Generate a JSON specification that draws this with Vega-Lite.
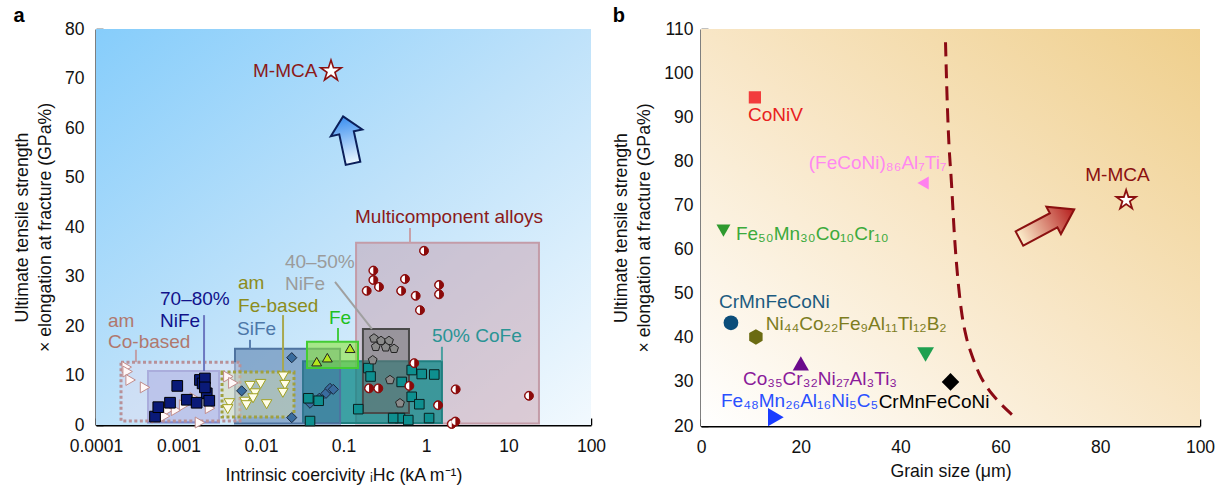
{
  "$schema": "https://vega.github.io/schema/vega-lite/v6.json",
  "background": "white",
  "padding": {"left": 13, "top": 6, "right": 0, "bottom": 0},
  "spacing": 6,
  "config": {
    "view": {"stroke": null},
    "font": "Liberation Sans",
    "axis": {"domainColor": "#000", "domainWidth": 2, "tickColor": "#000", "tickWidth": 1.5, "labelFont": "Liberation Sans", "labelFontSize": 17.5, "labelColor": "#111", "titleFont": "Liberation Sans", "titleFontSize": 17.7, "titleFontWeight": "normal", "titleColor": "#111", "grid": false, "labelOverlap": false, "labelFlush": false, "titleLineHeight": 23},
    "text": {"font": "Liberation Sans", "fontSize": 19, "baseline": "middle", "align": "left"},
    "title": {"font": "Liberation Sans", "fontSize": 20, "fontWeight": "bold", "anchor": "start", "color": "#000", "offset": -6}
  },
  "datasets": {
    "a_bg": [{"x1": 0.0001, "x2": 100, "y1": 0, "y2": 80}],
    "a_boxes": [
      {"box": "Multi", "style": "solid", "x1": 0.142, "x2": 23.4, "y1": 0.3, "y2": 36.8},
      {"box": "CoFe", "style": "solid", "x1": 0.0323, "x2": 1.56, "y1": 0.4, "y2": 12.9},
      {"box": "SiFe", "style": "solid", "x1": 0.00484, "x2": 0.0908, "y1": 0.3, "y2": 15.4},
      {"box": "Fe", "style": "solid", "x1": 0.0361, "x2": 0.15, "y1": 11.5, "y2": 16.8},
      {"box": "NiFe78", "style": "solid", "x1": 0.000427, "x2": 0.0031, "y1": 0.5, "y2": 10.9},
      {"box": "NiFe45", "style": "solid", "x1": 0.172, "x2": 0.622, "y1": 2.4, "y2": 19.4},
      {"box": "CoB", "style": "dotted", "x1": 0.000201, "x2": 0.00556, "y1": 0.8, "y2": 12.7},
      {"box": "FeB", "style": "dotted", "x1": 0.00337, "x2": 0.0251, "y1": 1.6, "y2": 10.7}
    ],
    "a_leaders": [
      {"x": 0.000305, "y": 15.2, "x2": 0.000305, "y2": 12.7, "g": "CoB"},
      {"x": 0.00204, "y": 22.2, "x2": 0.00204, "y2": 10.9, "g": "NiFe78"},
      {"x": 0.00736, "y": 17.2, "x2": 0.00736, "y2": 15.4, "g": "SiFe"},
      {"x": 0.0185, "y": 22.2, "x2": 0.0185, "y2": 10.7, "g": "FeB"},
      {"x": 0.0789, "y": 28.9, "x2": 0.221, "y2": 19.4, "g": "NiFe45"},
      {"x": 0.0858, "y": 19.6, "x2": 0.0858, "y2": 16.8, "g": "Fe"},
      {"x": 1.56, "y": 15.8, "x2": 1.56, "y2": 12.9, "g": "CoFe"},
      {"x": 0.64, "y": 39.8, "x2": 0.64, "y2": 36.8, "g": "Multi"}
    ],
    "a_pts": [
      {"x": 0.000236, "y": 11.7, "g": "CoB"}, {"x": 0.000242, "y": 10.8, "g": "CoB"}, {"x": 0.000263, "y": 9.1, "g": "CoB"}, {"x": 0.000393, "y": 7.6, "g": "CoB"}, {"x": 0.000569, "y": 3.0, "g": "CoB"}, {"x": 0.000752, "y": 3.0, "g": "CoB"}, {"x": 0.000933, "y": 3.0, "g": "CoB"}, {"x": 0.00117, "y": 4.0, "g": "CoB"}, {"x": 0.00158, "y": 5.4, "g": "CoB"}, {"x": 0.00241, "y": 3.4, "g": "CoB"}, {"x": 0.00402, "y": 9.8, "g": "CoB"}, {"x": 0.00462, "y": 8.5, "g": "CoB"}, {"x": 0.000542, "y": 1.5, "g": "CoB"}, {"x": 0.00069, "y": 1.8, "g": "CoB"}, {"x": 0.00182, "y": 0.5, "g": "CoB"},
      {"x": 0.000519, "y": 1.7, "g": "NiFe78"}, {"x": 0.000569, "y": 3.6, "g": "NiFe78"}, {"x": 0.000789, "y": 4.5, "g": "NiFe78"}, {"x": 0.000966, "y": 7.9, "g": "NiFe78"}, {"x": 0.00126, "y": 5.1, "g": "NiFe78"}, {"x": 0.00182, "y": 9.1, "g": "NiFe78"}, {"x": 0.00196, "y": 8.4, "g": "NiFe78"}, {"x": 0.00209, "y": 9.4, "g": "NiFe78"}, {"x": 0.0022, "y": 6.4, "g": "NiFe78"}, {"x": 0.00236, "y": 4.9, "g": "NiFe78"}, {"x": 0.00166, "y": 4.5, "g": "NiFe78"}, {"x": 0.00209, "y": 7.6, "g": "NiFe78"},
      {"x": 0.00413, "y": 4.4, "g": "FeB"}, {"x": 0.0064, "y": 4.7, "g": "FeB"}, {"x": 0.00736, "y": 7.9, "g": "FeB"}, {"x": 0.00846, "y": 6.4, "g": "FeB"}, {"x": 0.0099, "y": 8.3, "g": "FeB"}, {"x": 0.008, "y": 5.4, "g": "FeB"}, {"x": 0.00667, "y": 4.0, "g": "FeB"}, {"x": 0.0117, "y": 4.2, "g": "FeB"}, {"x": 0.0186, "y": 9.8, "g": "FeB"}, {"x": 0.0195, "y": 8.1, "g": "FeB"}, {"x": 0.0184, "y": 6.5, "g": "FeB"}, {"x": 0.00395, "y": 3.2, "g": "FeB"},
      {"x": 0.0236, "y": 13.6, "g": "SiFe"}, {"x": 0.00583, "y": 6.9, "g": "SiFe"}, {"x": 0.0236, "y": 1.5, "g": "SiFe"}, {"x": 0.0393, "y": 4.4, "g": "SiFe"}, {"x": 0.0509, "y": 5.4, "g": "SiFe"}, {"x": 0.0614, "y": 6.4, "g": "SiFe"}, {"x": 0.0686, "y": 7.4, "g": "SiFe"}, {"x": 0.0752, "y": 7.2, "g": "SiFe"},
      {"x": 0.0473, "y": 12.8, "g": "Fe"}, {"x": 0.0637, "y": 13.6, "g": "Fe"}, {"x": 0.12, "y": 15.5, "g": "Fe"},
      {"x": 0.0375, "y": 5.4, "g": "CoFe"}, {"x": 0.05, "y": 4.9, "g": "CoFe"}, {"x": 0.0393, "y": 0.8, "g": "CoFe"}, {"x": 0.151, "y": 3.2, "g": "CoFe"}, {"x": 0.2, "y": 11.5, "g": "CoFe"}, {"x": 0.213, "y": 9.8, "g": "CoFe"}, {"x": 0.507, "y": 8.7, "g": "CoFe"}, {"x": 0.671, "y": 11.1, "g": "CoFe"}, {"x": 0.887, "y": 10.3, "g": "CoFe"}, {"x": 1.26, "y": 10.2, "g": "CoFe"}, {"x": 0.671, "y": 5.7, "g": "CoFe"}, {"x": 0.83, "y": 4.2, "g": "CoFe"}, {"x": 0.484, "y": 1.4, "g": "CoFe"}, {"x": 0.61, "y": 1.0, "g": "CoFe"}, {"x": 1.09, "y": 1.4, "g": "CoFe"}, {"x": 0.4, "y": 1.4, "g": "CoFe"},
      {"x": 0.234, "y": 17.5, "g": "NiFe45"}, {"x": 0.285, "y": 17.0, "g": "NiFe45"}, {"x": 0.356, "y": 17.0, "g": "NiFe45"}, {"x": 0.41, "y": 15.4, "g": "NiFe45"}, {"x": 0.246, "y": 15.8, "g": "NiFe45"}, {"x": 0.325, "y": 15.7, "g": "NiFe45"}, {"x": 0.226, "y": 13.1, "g": "NiFe45"}, {"x": 0.366, "y": 9.1, "g": "NiFe45"}, {"x": 0.484, "y": 4.4, "g": "NiFe45"},
      {"x": 0.946, "y": 35.2, "g": "Multi"}, {"x": 0.23, "y": 31.2, "g": "Multi"}, {"x": 0.23, "y": 29.3, "g": "Multi"}, {"x": 0.269, "y": 27.9, "g": "Multi"}, {"x": 0.191, "y": 27.1, "g": "Multi"}, {"x": 0.556, "y": 29.5, "g": "Multi"}, {"x": 0.5, "y": 27.1, "g": "Multi"}, {"x": 0.75, "y": 26.1, "g": "Multi"}, {"x": 0.845, "y": 23.2, "g": "Multi"}, {"x": 1.44, "y": 28.3, "g": "Multi"}, {"x": 1.44, "y": 26.4, "g": "Multi"}, {"x": 0.72, "y": 12.5, "g": "Multi"}, {"x": 0.204, "y": 7.4, "g": "Multi"}, {"x": 0.264, "y": 7.4, "g": "Multi"}, {"x": 0.628, "y": 7.9, "g": "Multi"}, {"x": 2.29, "y": 7.2, "g": "Multi"}, {"x": 17.7, "y": 5.9, "g": "Multi"}, {"x": 1.4, "y": 4.0, "g": "Multi"}, {"x": 2.27, "y": 0.7, "g": "Multi"}, {"x": 2.05, "y": 0.2, "g": "Multi"}
    ],
    "a_star": [{"x": 0.0705, "y": 71.5}],
    "a_arrow": [{"x": 0.1135, "y": 57.6}],
    "a_labels": [
      {"x": 0.00014, "y": 21.0, "t": "am", "g": "CoB"},
      {"x": 0.00014, "y": 16.8, "t": "Co-based", "g": "CoB"},
      {"x": 0.000597, "y": 25.5, "t": "70–80%", "g": "NiFe78"},
      {"x": 0.000597, "y": 21.0, "t": "NiFe", "g": "NiFe78"},
      {"x": 0.00512, "y": 19.4, "t": "SiFe", "g": "SiFe"},
      {"x": 0.00527, "y": 28.7, "t": "am", "g": "FeB"},
      {"x": 0.00527, "y": 24.0, "t": "Fe-based", "g": "FeB"},
      {"x": 0.0195, "y": 32.9, "t": "40–50%", "g": "NiFe45"},
      {"x": 0.0195, "y": 28.5, "t": "NiFe", "g": "NiFe45"},
      {"x": 0.0667, "y": 21.6, "t": "Fe", "g": "Fe"},
      {"x": 1.18, "y": 18.0, "t": "50% CoFe", "g": "CoFe"},
      {"x": 0.138, "y": 42.0, "t": "Multicomponent alloys", "g": "Multi"},
      {"x": 0.008, "y": 71.5, "t": "M-MCA", "g": "MMCA"}
    ],
    "b_bg": [{"x1": 0, "x2": 100, "y1": 20, "y2": 110}],
    "b_curve": [
      {"x": 49.0, "y": 107}, {"x": 49.3, "y": 95}, {"x": 49.6, "y": 86}, {"x": 50.2, "y": 75}, {"x": 50.8, "y": 63}, {"x": 51.5, "y": 53}, {"x": 52.2, "y": 46}, {"x": 53.2, "y": 40}, {"x": 54.3, "y": 36}, {"x": 55.7, "y": 32}, {"x": 57.3, "y": 28.8}, {"x": 59.5, "y": 25.7}, {"x": 62.3, "y": 22.6}
    ],
    "b_pts": [
      {"x": 10.8, "y": 94.5, "g": "CoNiV"},
      {"x": 44.5, "y": 75.1, "g": "FeCoNiAlTi"},
      {"x": 4.5, "y": 64.3, "g": "FeMnCoCr"},
      {"x": 6.0, "y": 43.4, "g": "CrMnFeCoNiA"},
      {"x": 11.0, "y": 40.2, "g": "NiCoFeAlTiB"},
      {"x": 20.0, "y": 34.2, "g": "CoCrNiAlTi"},
      {"x": 45.0, "y": 36.2, "g": "Green2"},
      {"x": 50.0, "y": 30.0, "g": "CrMnFeCoNiB"},
      {"x": 15.0, "y": 22.0, "g": "FeMnAlNiC"}
    ],
    "b_labels": [
      {"x": 9.4, "y": 90.5, "t": "CoNiV", "g": "CoNiV"},
      {"x": 21.6, "y": 79.7, "t": "(FeCoNi)₈₆Al₇Ti₇", "g": "FeCoNiAlTi"},
      {"x": 77.0, "y": 77.0, "t": "M-MCA", "g": "MMCA"},
      {"x": 7.0, "y": 63.5, "t": "Fe₅₀Mn₃₀Co₁₀Cr₁₀", "g": "FeMnCoCr"},
      {"x": 3.6, "y": 48.0, "t": "CrMnFeCoNi", "g": "CrMnFeCoNiA"},
      {"x": 13.0, "y": 43.2, "t": "Ni₄₄Co₂₂Fe₉Al₁₁Ti₁₂B₂", "g": "NiCoFeAlTiB"},
      {"x": 8.4, "y": 30.6, "t": "Co₃₅Cr₃₂Ni₂₇Al₃Ti₃", "g": "CoCrNiAlTi"},
      {"x": 4.0, "y": 25.7, "t": "Fe₄₈Mn₂₆Al₁₆Ni₅C₅", "g": "FeMnAlNiC"},
      {"x": 35.6, "y": 25.4, "t": "CrMnFeCoNi", "g": "CrMnFeCoNiB"}
    ],
    "b_star": [{"x": 85.2, "y": 71.2}],
    "b_arrow": [{"x": 69.3, "y": 65.8}]
  },
  "hconcat": [
    {
      "title": {"text": "a"},
      "width": 495,
      "height": 396,
      "resolve": {"scale": {"fill": "independent", "stroke": "independent", "shape": "independent", "size": "independent", "color": "independent"}},
      "layer": [
        {
          "data": {"name": "a_bg"},
          "mark": {"type": "rect", "fill": {"gradient": "linear", "x1": 0, "y1": 0, "x2": 1, "y2": 1, "stops": [{"offset": 0, "color": "#86cdfb"}, {"offset": 0.5, "color": "#bfe2fa"}, {"offset": 1, "color": "#f2f9fe"}]}},
          "encoding": {
            "x": {"field": "x1", "type": "quantitative", "scale": {"type": "log", "domain": [0.0001, 100], "nice": false},
              "axis": {"title": "Intrinsic coercivity ᵢHc (kA m⁻¹)", "format": "~g", "values": [0.0001, 0.0002, 0.0003, 0.0004, 0.0005, 0.0006, 0.0007, 0.0008, 0.0009, 0.001, 0.002, 0.003, 0.004, 0.005, 0.006, 0.007, 0.008, 0.009, 0.01, 0.02, 0.03, 0.04, 0.05, 0.06, 0.07, 0.08, 0.09, 0.1, 0.2, 0.3, 0.4, 0.5, 0.6, 0.7, 0.8, 0.9, 1, 2, 3, 4, 5, 6, 7, 8, 9, 10, 20, 30, 40, 50, 60, 70, 80, 90, 100],
                "labelExpr": "abs(log(datum.value)/LN10 - round(log(datum.value)/LN10)) < 0.01 ? datum.label : ''",
                "tickSize": {"condition": {"test": "abs(log(datum.value)/LN10 - round(log(datum.value)/LN10)) < 0.01", "value": -7}, "value": -4},
                "labelPadding": 19, "titlePadding": 9}},
            "x2": {"field": "x2"},
            "y": {"field": "y1", "type": "quantitative", "scale": {"domain": [0, 80], "nice": false},
              "axis": {"title": ["Ultimate tensile strength", "× elongation at fracture (GPa%)"], "values": [0, 5, 10, 15, 20, 25, 30, 35, 40, 45, 50, 55, 60, 65, 70, 75, 80],
                "labelExpr": "datum.value % 10 == 0 ? datum.label : ''",
                "tickSize": {"condition": {"test": "datum.value % 10 == 0", "value": -7}, "value": -4},
                "labelPadding": 19, "titlePadding": 10}},
            "y2": {"field": "y2"}
          }
        },
        {
          "data": {"name": "a_boxes"},
          "transform": [{"filter": {"field": "style", "equal": "solid"}}],
          "mark": {"type": "rect", "strokeWidth": 2},
          "encoding": {
            "x": {"field": "x1", "type": "quantitative"},
            "x2": {"field": "x2"},
            "y": {"field": "y1", "type": "quantitative"},
            "y2": {"field": "y2"},
            "fill": {"field": "box", "type": "nominal", "legend": null, "scale": {"domain": ["Multi", "CoFe", "SiFe", "Fe", "NiFe78", "NiFe45"], "range": ["rgba(200,150,165,0.45)", "rgba(10,135,135,0.75)", "rgba(70,110,160,0.5)", "rgba(140,230,60,0.6)", "rgba(130,140,215,0.55)", "rgba(110,110,110,0.55)"]}},
            "stroke": {"field": "box", "type": "nominal", "legend": null, "scale": {"domain": ["Multi", "CoFe", "SiFe", "Fe", "NiFe78", "NiFe45"], "range": ["#c39ca8", "#1f7f80", "#4e73a0", "#44cc33", "#7f88cc", "#4a4a4a"]}}
          }
        },
        {
          "data": {"name": "a_boxes"},
          "transform": [{"filter": {"field": "style", "equal": "dotted"}}],
          "mark": {"type": "rect", "strokeWidth": 3, "strokeDash": [3, 2.5]},
          "encoding": {
            "x": {"field": "x1", "type": "quantitative"},
            "x2": {"field": "x2"},
            "y": {"field": "y1", "type": "quantitative"},
            "y2": {"field": "y2"},
            "fill": {"field": "box", "type": "nominal", "legend": null, "scale": {"domain": ["CoB", "FeB"], "range": ["rgba(225,220,240,0.45)", "rgba(225,225,160,0.35)"]}},
            "stroke": {"field": "box", "type": "nominal", "legend": null, "scale": {"domain": ["CoB", "FeB"], "range": ["#b89098", "#a0a040"]}}
          }
        },
        {
          "data": {"name": "a_leaders"},
          "mark": {"type": "rule", "strokeWidth": 2},
          "encoding": {
            "x": {"field": "x", "type": "quantitative"},
            "x2": {"field": "x2"},
            "y": {"field": "y", "type": "quantitative"},
            "y2": {"field": "y2"},
            "stroke": {"field": "g", "type": "nominal", "legend": null, "scale": {"domain": ["CoB", "NiFe78", "SiFe", "FeB", "NiFe45", "Fe", "CoFe", "Multi"], "range": ["#c0a0a8", "#6c78c0", "#5a80b0", "#a8a850", "#a0a0a0", "#44cc44", "#4aa0a0", "#c8a0a8"]}}
          }
        },
        {
          "data": {"name": "a_pts"},
          "mark": {"type": "point", "filled": true, "opacity": 1, "strokeWidth": 1},
          "encoding": {
            "x": {"field": "x", "type": "quantitative"},
            "y": {"field": "y", "type": "quantitative"},
            "shape": {"field": "g", "type": "nominal", "legend": null, "scale": {"domain": ["CoB", "NiFe78", "FeB", "SiFe", "Fe", "CoFe", "NiFe45", "Multi"], "range": ["triangle-right", "square", "triangle-down", "diamond", "triangle-up", "square", "M0,-1L0.951,-0.309L0.588,0.809L-0.588,0.809L-0.951,-0.309Z", "circle"]}},
            "fill": {"field": "g", "type": "nominal", "legend": null, "scale": {"domain": ["CoB", "NiFe78", "FeB", "SiFe", "Fe", "CoFe", "NiFe45", "Multi"], "range": ["#fff8f8", "#0a1a78", "#fffde8", "#3a6c9e", "#b5e61d", "#0e8f8f", "#8a8a8a", "#8b0a0a"]}},
            "stroke": {"field": "g", "type": "nominal", "legend": null, "scale": {"domain": ["CoB", "NiFe78", "FeB", "SiFe", "Fe", "CoFe", "NiFe45", "Multi"], "range": ["#c08c8c", "#000000", "#a0a020", "#1a2a40", "#222222", "#0a2020", "#222222", "#8b0a0a"]}},
            "size": {"field": "g", "type": "nominal", "legend": null, "scale": {"domain": ["CoB", "NiFe78", "FeB", "SiFe", "Fe", "CoFe", "NiFe45", "Multi"], "range": [120, 80, 130, 120, 120, 80, 140, 165]}}
          }
        },
        {
          "data": {"name": "a_pts"},
          "transform": [{"filter": {"field": "g", "equal": "Multi"}}],
          "mark": {"type": "point", "filled": true, "opacity": 1, "fill": "#ffffff", "strokeWidth": 0, "shape": "M0,-1A1,1,0,0,0,0,1Z", "size": 50},
          "encoding": {
            "x": {"field": "x", "type": "quantitative"},
            "y": {"field": "y", "type": "quantitative"}
          }
        },
        {
          "data": {"name": "a_star"},
          "mark": {"type": "point", "filled": true, "opacity": 1, "fill": "#ffffff", "stroke": "#8b1010", "strokeWidth": 1.6, "size": 480, "shape": "M0,-1L0.225,-0.309L0.951,-0.309L0.363,0.118L0.588,0.809L0,0.382L-0.588,0.809L-0.363,0.118L-0.951,-0.309L-0.225,-0.309Z"},
          "encoding": {
            "x": {"field": "x", "type": "quantitative"},
            "y": {"field": "y", "type": "quantitative"}
          }
        },
        {
          "data": {"name": "a_arrow"},
          "mark": {"type": "point", "filled": true, "opacity": 1, "angle": -12, "size": 2304, "stroke": "#0b1f5a", "strokeWidth": 2, "shape": "M0,-1L0.67,-0.3L0.31,-0.3L0.31,1L-0.31,1L-0.31,-0.3L-0.67,-0.3Z",
            "fill": {"gradient": "linear", "x1": 0.5, "y1": 1, "x2": 0.5, "y2": 0, "stops": [{"offset": 0, "color": "#eaf7ff"}, {"offset": 1, "color": "#3a8ef0"}]}},
          "encoding": {
            "x": {"field": "x", "type": "quantitative"},
            "y": {"field": "y", "type": "quantitative"}
          }
        },
        {
          "data": {"name": "a_labels"},
          "mark": {"type": "text"},
          "encoding": {
            "x": {"field": "x", "type": "quantitative"},
            "y": {"field": "y", "type": "quantitative"},
            "text": {"field": "t"},
            "color": {"field": "g", "type": "nominal", "legend": null, "scale": {"domain": ["CoB", "NiFe78", "SiFe", "FeB", "NiFe45", "Fe", "CoFe", "Multi", "MMCA"], "range": ["#b0786e", "#12128a", "#4d77a8", "#8c8c1c", "#9b9b9b", "#20c020", "#2a9494", "#8b1a1a", "#8b1a1a"]}}
          }
        }
      ]
    },
    {
      "title": {"text": "b"},
      "width": 499,
      "height": 397,
      "resolve": {"scale": {"fill": "independent", "stroke": "independent", "shape": "independent", "size": "independent", "color": "independent"}},
      "layer": [
        {
          "data": {"name": "b_bg"},
          "mark": {"type": "rect", "fill": {"gradient": "linear", "x1": 0, "y1": 1, "x2": 1, "y2": 0, "stops": [{"offset": 0, "color": "#ffffff"}, {"offset": 0.5, "color": "#f8e6c6"}, {"offset": 1, "color": "#efcf8c"}]}},
          "encoding": {
            "x": {"field": "x1", "type": "quantitative", "scale": {"domain": [0, 100], "nice": false},
              "axis": {"title": "Grain size (μm)", "values": [0, 10, 20, 30, 40, 50, 60, 70, 80, 90, 100],
                "labelExpr": "datum.value % 20 == 0 ? datum.label : ''",
                "tickSize": {"condition": {"test": "datum.value % 20 == 0", "value": -7}, "value": -5},
                "labelPadding": 19, "titlePadding": 5}},
            "x2": {"field": "x2"},
            "y": {"field": "y1", "type": "quantitative", "scale": {"domain": [20, 110], "nice": false, "zero": false},
              "axis": {"title": ["Ultimate tensile strength", "× elongation at fracture (GPa%)"], "values": [20, 25, 30, 35, 40, 45, 50, 55, 60, 65, 70, 75, 80, 85, 90, 95, 100, 105, 110],
                "labelExpr": "datum.value % 10 == 0 ? datum.label : ''",
                "tickSize": {"condition": {"test": "datum.value % 10 == 0", "value": -7}, "value": -4},
                "labelPadding": 15, "titlePadding": 10}},
            "y2": {"field": "y2"}
          }
        },
        {
          "data": {"name": "b_curve"},
          "mark": {"type": "line", "stroke": "#8b0a14", "strokeWidth": 3, "strokeDash": [14, 8], "interpolate": "monotone"},
          "encoding": {
            "x": {"field": "x", "type": "quantitative"},
            "y": {"field": "y", "type": "quantitative"}
          }
        },
        {
          "data": {"name": "b_arrow"},
          "mark": {"type": "point", "filled": true, "opacity": 1, "angle": 62, "size": 3844, "stroke": "#8b1010", "strokeWidth": 2, "shape": "M0,-1L0.5,-0.25L0.26,-0.25L0.26,1L-0.26,1L-0.26,-0.25L-0.5,-0.25Z",
            "fill": {"gradient": "linear", "x1": 0.5, "y1": 1, "x2": 0.5, "y2": 0, "stops": [{"offset": 0, "color": "#fcefcc"}, {"offset": 1, "color": "#b51c1c"}]}},
          "encoding": {
            "x": {"field": "x", "type": "quantitative"},
            "y": {"field": "y", "type": "quantitative"}
          }
        },
        {
          "data": {"name": "b_pts"},
          "mark": {"type": "point", "filled": true, "opacity": 1, "strokeWidth": 0},
          "encoding": {
            "x": {"field": "x", "type": "quantitative"},
            "y": {"field": "y", "type": "quantitative"},
            "shape": {"field": "g", "type": "nominal", "legend": null, "scale": {"domain": ["CoNiV", "FeCoNiAlTi", "FeMnCoCr", "CrMnFeCoNiA", "NiCoFeAlTiB", "CoCrNiAlTi", "Green2", "CrMnFeCoNiB", "FeMnAlNiC"], "range": ["square", "triangle-left", "triangle-down", "circle", "M0,-1L0.866,-0.5L0.866,0.5L0,1L-0.866,0.5L-0.866,-0.5Z", "triangle-up", "triangle-down", "diamond", "triangle-right"]}},
            "fill": {"field": "g", "type": "nominal", "legend": null, "scale": {"domain": ["CoNiV", "FeCoNiAlTi", "FeMnCoCr", "CrMnFeCoNiA", "NiCoFeAlTiB", "CoCrNiAlTi", "Green2", "CrMnFeCoNiB", "FeMnAlNiC"], "range": ["#f23c3c", "#ff80ee", "#2e9a2e", "#0b4d7a", "#6b6b12", "#6a0a8c", "#1fa050", "#000000", "#1a3cff"]}},
            "size": {"field": "g", "type": "nominal", "legend": null, "scale": {"domain": ["CoNiV", "FeCoNiAlTi", "FeMnCoCr", "CrMnFeCoNiA", "NiCoFeAlTiB", "CoCrNiAlTi", "Green2", "CrMnFeCoNiB", "FeMnAlNiC"], "range": [150, 330, 330, 190, 200, 330, 330, 270, 330]}}
          }
        },
        {
          "data": {"name": "b_star"},
          "mark": {"type": "point", "filled": true, "opacity": 1, "fill": "#ffffff", "stroke": "#8b1010", "strokeWidth": 1.8, "size": 420, "shape": "M0,-1L0.225,-0.309L0.951,-0.309L0.363,0.118L0.588,0.809L0,0.382L-0.588,0.809L-0.363,0.118L-0.951,-0.309L-0.225,-0.309Z"},
          "encoding": {
            "x": {"field": "x", "type": "quantitative"},
            "y": {"field": "y", "type": "quantitative"}
          }
        },
        {
          "data": {"name": "b_labels"},
          "mark": {"type": "text"},
          "encoding": {
            "x": {"field": "x", "type": "quantitative"},
            "y": {"field": "y", "type": "quantitative"},
            "text": {"field": "t"},
            "color": {"field": "g", "type": "nominal", "legend": null, "scale": {"domain": ["CoNiV", "FeCoNiAlTi", "MMCA", "FeMnCoCr", "CrMnFeCoNiA", "NiCoFeAlTiB", "CoCrNiAlTi", "FeMnAlNiC", "CrMnFeCoNiB"], "range": ["#e8201e", "#ff88f0", "#8b1010", "#3caa3c", "#1c5b80", "#7d7d1e", "#8a1a9a", "#2a50ff", "#000000"]}}
          }
        }
      ]
    }
  ]
}
